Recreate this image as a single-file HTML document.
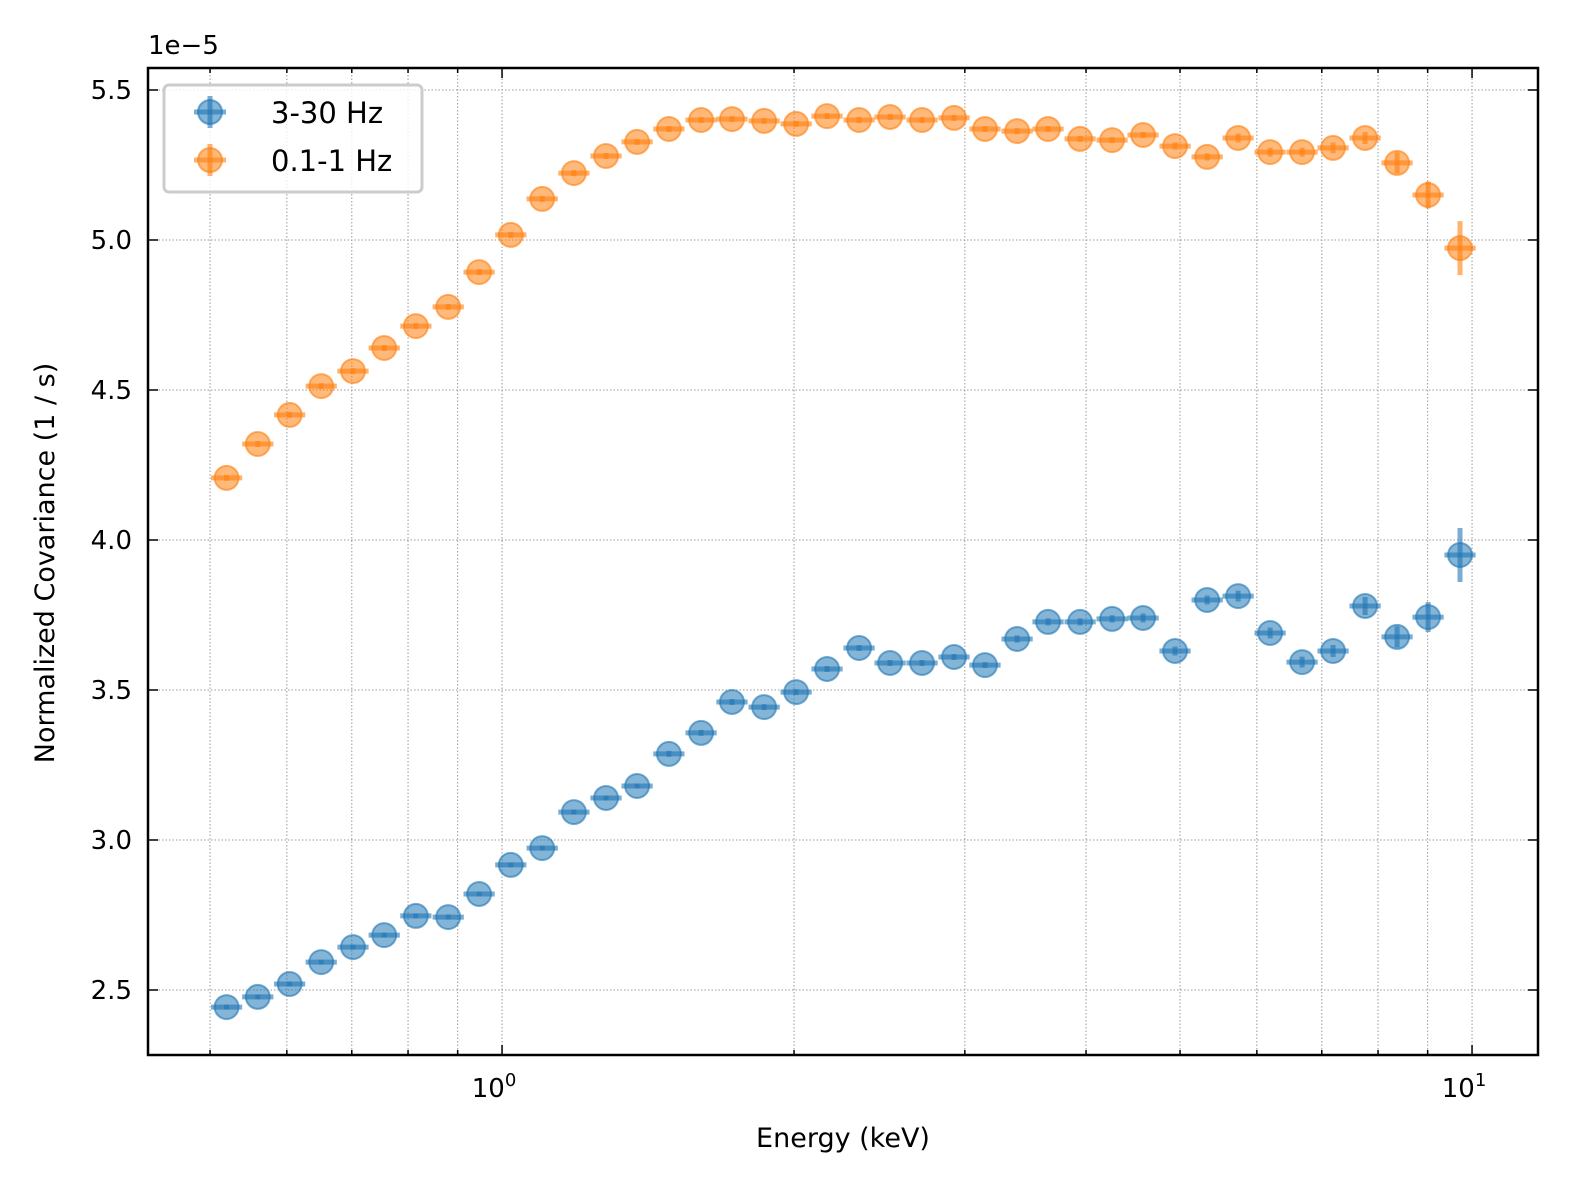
<!DOCTYPE html>
<html><head><meta charset="utf-8"><style>
html,body{margin:0;padding:0;background:#fff;}
svg text{font-family:"DejaVu Sans","Liberation Sans",sans-serif;}
</style></head><body>
<svg id="chart" width="1572" height="1187" viewBox="0 0 1572 1187" xmlns="http://www.w3.org/2000/svg">
<rect x="0" y="0" width="1572" height="1187" fill="#fff"/>
<g id="grid"></g>
<g id="series"></g>
<rect x="148" y="68" width="1390" height="987" fill="none" stroke="#000" stroke-width="2.5"/>
<g id="ticks"></g>
<text x="148" y="54" font-size="26">1e−5</text>
<text x="843" y="1147" font-size="27" text-anchor="middle">Energy (keV)</text>
<text transform="translate(54,563) rotate(-90)" font-size="27" text-anchor="middle">Normalized Covariance (1 / s)</text>
<g>
<rect x="164" y="85" width="258" height="107" rx="5" fill="#fff" fill-opacity="0.8" stroke="#ccc" stroke-width="3"/>
<g>
<line x1="194" y1="112" x2="226" y2="112" stroke="#1f77b4" stroke-opacity="0.6" stroke-width="5"/>
<line x1="210" y1="96" x2="210" y2="128" stroke="#1f77b4" stroke-opacity="0.6" stroke-width="5"/>
<circle cx="210" cy="112" r="12" fill="#1f77b4" fill-opacity="0.55" stroke="#1f77b4" stroke-opacity="0.6" stroke-width="2"/>
<text x="271" y="123" font-size="29">3-30 Hz</text></g>
<g>
<line x1="194" y1="160" x2="226" y2="160" stroke="#ff7f0e" stroke-opacity="0.6" stroke-width="5"/>
<line x1="210" y1="144" x2="210" y2="176" stroke="#ff7f0e" stroke-opacity="0.6" stroke-width="5"/>
<circle cx="210" cy="160" r="12" fill="#ff7f0e" fill-opacity="0.55" stroke="#ff7f0e" stroke-opacity="0.6" stroke-width="2"/>
<text x="271" y="171" font-size="29">0.1-1 Hz</text></g>
</g>
</svg>
<script>
const energies=[0.520,0.560,0.604,0.651,0.702,0.756,0.815,0.880,0.947,1.021,1.100,1.186,1.280,1.378,1.486,1.604,1.726,1.863,2.010,2.163,2.334,2.512,2.710,2.924,3.147,3.396,3.655,3.944,4.255,4.580,4.941,5.332,5.739,6.192,6.680,7.190,7.758,8.370,9.009,9.719];
const lowFreq=[4.207,4.32,4.417,4.513,4.563,4.64,4.713,4.777,4.893,5.017,5.137,5.223,5.28,5.327,5.37,5.40,5.403,5.397,5.387,5.413,5.40,5.41,5.40,5.407,5.37,5.363,5.37,5.337,5.333,5.35,5.313,5.277,5.34,5.293,5.293,5.307,5.34,5.257,5.15,4.973];
const lowErr=[0.01,0.01,0.01,0.01,0.01,0.01,0.01,0.01,0.01,0.01,0.01,0.01,0.01,0.01,0.01,0.01,0.01,0.01,0.01,0.01,0.01,0.01,0.01,0.01,0.01,0.01,0.01,0.01,0.01,0.01,0.012,0.012,0.015,0.015,0.015,0.018,0.02,0.035,0.045,0.09];
const highFreq=[2.443,2.477,2.52,2.593,2.643,2.683,2.747,2.743,2.82,2.917,2.973,3.093,3.14,3.18,3.287,3.357,3.46,3.443,3.493,3.57,3.64,3.59,3.59,3.61,3.583,3.67,3.727,3.727,3.737,3.74,3.63,3.80,3.813,3.69,3.593,3.63,3.78,3.677,3.743,3.95];
const highErr=[0.008,0.008,0.008,0.008,0.008,0.008,0.008,0.008,0.008,0.008,0.008,0.008,0.008,0.008,0.01,0.01,0.01,0.01,0.01,0.01,0.01,0.01,0.01,0.01,0.01,0.012,0.012,0.012,0.012,0.015,0.015,0.015,0.018,0.018,0.018,0.02,0.03,0.035,0.05,0.09];
const yTicks=[2.5,3.0,3.5,4.0,4.5,5.0,5.5];
const yTickLabels=["2.5","3.0","3.5","4.0","4.5","5.0","5.5"];
const xMajor=[1,10];
const xMinor=[0.5,0.6,0.7,0.8,0.9,2,3,4,5,6,7,8,9];

const NS="http://www.w3.org/2000/svg";
const L=148,R=1538,T=68,B=1055;
const lxMin=-0.365,lxMax=1.068,yMin=2.2833,yMax=5.5733;
const X=e=>L+(Math.log10(e)-lxMin)/(lxMax-lxMin)*(R-L);
const Y=v=>B-(v-yMin)/(yMax-yMin)*(B-T);
function mk(tag,attrs,parent){const el=document.createElementNS(NS,tag);for(const k in attrs)el.setAttribute(k,attrs[k]);parent.appendChild(el);return el;}
const grid=document.getElementById('grid'),ticks=document.getElementById('ticks'),series=document.getElementById('series');
xMajor.concat(xMinor).forEach(e=>{const x=X(e);
 const g=mk('line',{x1:x,x2:x,y1:T,y2:B,stroke:'#999','stroke-width':1,'stroke-dasharray':'1.5,2'},grid);
 
 
 const major=xMajor.includes(e);
 const t=mk('line',{x1:x,x2:x,y1:B,y2:B-(major?10:5),stroke:'#000','stroke-width':1.5},ticks);
 
 
 const t2=mk('line',{x1:x,x2:x,y1:T,y2:T+(major?10:5),stroke:'#000','stroke-width':1.5},ticks);
 
 
 if(major){const tx=mk('text',{x:x-8,y:B+42,'font-size':26,'text-anchor':'middle'},ticks);
  
  
  tx.textContent='10';
  const sp=mk('tspan',{dy:-11,'font-size':18},tx);sp.textContent=e===1?'0':'1';}
});
yTicks.forEach((v,i)=>{const y=Y(v);
 const g=mk('line',{x1:L,x2:R,y1:y,y2:y,stroke:'#999','stroke-width':1,'stroke-dasharray':'1.5,2'},grid);
 
 
 const t=mk('line',{x1:L,x2:L+10,y1:y,y2:y,stroke:'#000','stroke-width':1.5},ticks);
 
 
 const t2=mk('line',{x1:R,x2:R-10,y1:y,y2:y,stroke:'#000','stroke-width':1.5},ticks);
 
 
 const tx=mk('text',{x:L-16,y:y+9,'font-size':26,'text-anchor':'end'},ticks);
 
 
 tx.textContent=yTickLabels[i];
});
function drawSeries(vals,errs,color,name){
 const g=mk('g',{},series);
 
 
 const step=Math.log10(energies[1]/energies[0]);
 vals.forEach((v,i)=>{const e=energies[i];
  const x=X(e),y=Y(v);
  const x0=X(e/Math.pow(10,step/2)),x1=X(e*Math.pow(10,step/2));
  const p=mk('g',{},g);
  
  
  mk('line',{x1:x0,x2:x1,y1:y,y2:y,stroke:color,'stroke-opacity':0.6,'stroke-width':5},p);
  mk('line',{x1:x,x2:x,y1:Y(v+errs[i]),y2:Y(v-errs[i]),stroke:color,'stroke-opacity':0.6,'stroke-width':5},p);
  mk('circle',{cx:x,cy:y,r:12,fill:color,'fill-opacity':0.55,stroke:color,'stroke-opacity':0.6,'stroke-width':2},p);
 });
}
drawSeries(highFreq,highErr,'#1f77b4','series-3-30hz');
drawSeries(lowFreq,lowErr,'#ff7f0e','series-0.1-1hz');
</script>
</body></html>
